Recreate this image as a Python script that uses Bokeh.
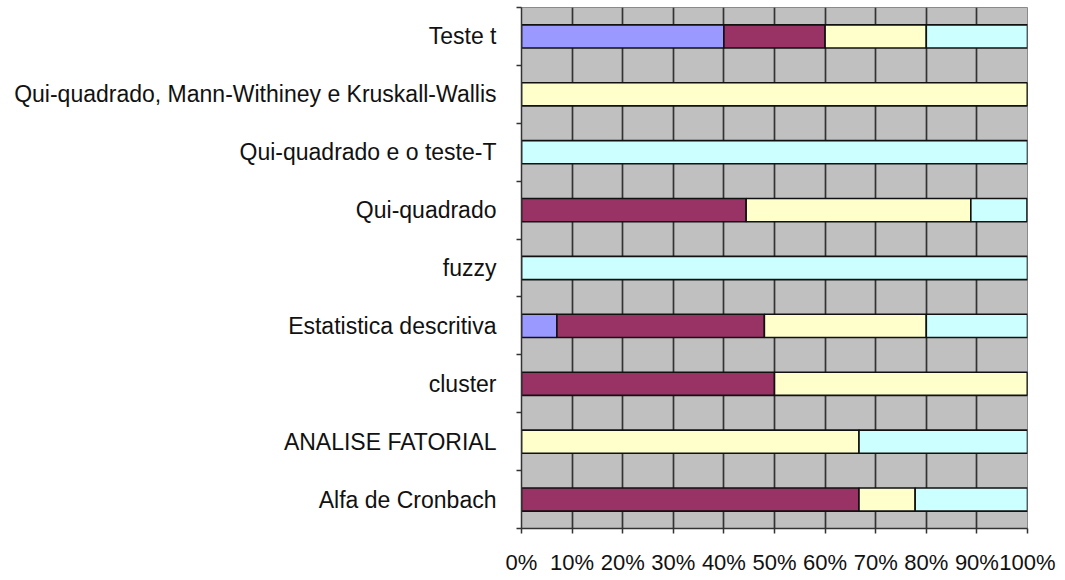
from bokeh.plotting import figure
from bokeh.models import ColumnDataSource, FixedTicker, Range1d
from bokeh.embed import file_html
from bokeh.resources import INLINE

# Categories, bottom to top
categories = [
    "Alfa de Cronbach",
    "ANALISE FATORIAL",
    "cluster",
    "Estatistica descritiva",
    "fuzzy",
    "Qui-quadrado",
    "Qui-quadrado e o teste-T",
    "Qui-quadrado, Mann-Withiney e Kruskall-Wallis",
    "Teste t",
]
serie1 = [0, 0, 0, 7, 0, 0, 0, 0, 40]
serie2 = [66.7, 0, 50, 41, 0, 44.4, 0, 0, 20]
serie3 = [11.1, 66.7, 50, 32, 0, 44.4, 0, 100, 20]
serie4 = [22.2, 33.3, 0, 20, 100, 11.1, 100, 0, 20]
series_names = ["serie1", "serie2", "serie3", "serie4"]
series_colors = ["#9999FF", "#993366", "#FFFFCC", "#CCFFFF"]
x_ticks = [0, 10, 20, 30, 40, 50, 60, 70, 80, 90, 100]
x_tick_labels = ["0%", "10%", "20%", "30%", "40%", "50%", "60%", "70%", "80%", "90%", "100%"]

positions = list(range(len(categories)))
source = ColumnDataSource(dict(
    y=positions,
    serie1=serie1, serie2=serie2, serie3=serie3, serie4=serie4,
))

p = figure(
    width=1057, height=577,
    x_range=Range1d(0, 100), y_range=Range1d(-0.5, len(categories) - 0.5),
    output_backend="svg", toolbar_location=None,
    min_border_left=521, min_border_right=30, min_border_top=7, min_border_bottom=47,
)
p.background_fill_color = "#C0C0C0"
p.border_fill_color = "white"
p.outline_line_color = "#8a8a8a"
p.outline_line_width = 1

p.hbar_stack(series_names, y="y", height=0.4, source=source,
             color=series_colors, line_color="#111111", line_width=1.6)

# grids
p.ygrid.grid_line_color = None
p.xgrid.ticker = FixedTicker(ticks=x_ticks)
p.xgrid.grid_line_color = "#333333"
p.xgrid.grid_line_width = 1.7

# x axis
p.xaxis.ticker = FixedTicker(ticks=x_ticks)
p.xaxis.major_label_overrides = {t: l for t, l in zip(x_ticks, x_tick_labels)}
p.xaxis.major_tick_out = 5
p.xaxis.major_tick_in = 0
p.xaxis.minor_tick_line_color = None
p.xaxis.major_label_standoff = 16
p.xaxis.major_label_text_font = "Liberation Sans"
p.xaxis.major_label_text_font_size = "22px"
p.xaxis.major_label_text_color = "#111111"
p.xaxis.axis_line_color = "#333333"
p.xaxis.axis_line_width = 1.5
p.xaxis.major_tick_line_color = "#333333"
p.xaxis.major_tick_line_width = 1.5

# y axis
p.yaxis.ticker = FixedTicker(ticks=positions,
                             minor_ticks=[i - 0.5 for i in range(len(categories) + 1)])
p.yaxis.major_label_overrides = {i: c for i, c in zip(positions, categories)}
p.yaxis.major_tick_out = 0
p.yaxis.major_tick_in = 0
p.yaxis.minor_tick_out = 5
p.yaxis.minor_tick_in = 0
p.yaxis.minor_tick_line_color = "#333333"
p.yaxis.minor_tick_line_width = 1.5
p.yaxis.major_label_standoff = 20
p.yaxis.major_label_text_font = "Liberation Sans"
p.yaxis.major_label_text_font_size = "23px"
p.yaxis.major_label_text_color = "#111111"
p.yaxis.axis_line_color = "#333333"
p.yaxis.axis_line_width = 1.5

open("out.html", "w").write(file_html(p, INLINE))
